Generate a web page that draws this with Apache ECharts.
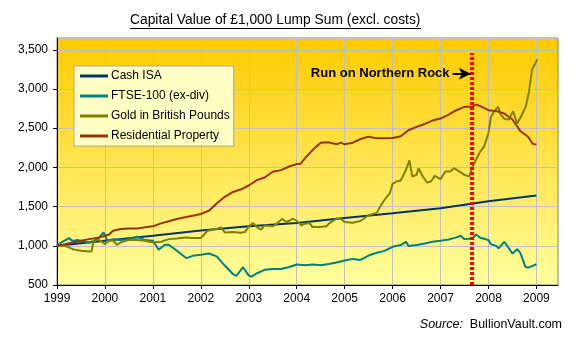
<!DOCTYPE html>
<html><head><meta charset="utf-8">
<script src="https://cdn.jsdelivr.net/npm/echarts@6/dist/echarts.min.js"></script>
<style>html,body{margin:0;padding:0;background:#fff}#c{width:579px;height:344px}</style>
</head><body><div id="c"></div>
<script>
const FONT = "'Liberation Sans', Arial, sans-serif";
const titleText = 'Capital Value of £1,000 Lump Sum (excl. costs)';
const seriesNames = ['Cash ISA', 'FTSE-100 (ex-div)', 'Gold in British Pounds', 'Residential Property'];
const xTickYears = [1999, 2000, 2001, 2002, 2003, 2004, 2005, 2006, 2007, 2008, 2009];
const yTicks = [500, 1000, 1500, 2000, 2500, 3000, 3500];

const cashDates = [1999, 2000, 2001, 2002, 2003, 2004, 2005, 2006, 2007, 2008, 2009];
const cashValues = [1000, 1064, 1128, 1195, 1248, 1292, 1354, 1415, 1478, 1568, 1640];

const ftseDates = [1999.0,1999.08,1999.25,1999.33,1999.42,1999.5,1999.67,1999.83,1999.97,2000.05,2000.17,2000.33,2000.5,2000.67,2000.83,2001.0,2001.12,2001.25,2001.33,2001.5,2001.7,2001.83,2002.0,2002.17,2002.33,2002.5,2002.67,2002.74,2002.88,2003.0,2003.06,2003.17,2003.33,2003.5,2003.67,2003.83,2004.0,2004.17,2004.33,2004.5,2004.67,2004.83,2005.0,2005.17,2005.33,2005.5,2005.67,2005.83,2006.0,2006.17,2006.28,2006.33,2006.5,2006.67,2006.83,2007.0,2007.17,2007.33,2007.42,2007.5,2007.67,2007.74,2007.83,2008.0,2008.05,2008.17,2008.21,2008.33,2008.5,2008.6,2008.67,2008.77,2008.83,2008.92,2009.0];
const ftseValues = [1000,1040,1098,1060,1075,1064,1043,1073,1171,1064,1085,1073,1085,1115,1073,1064,950,1013,1013,936,842,872,885,902,865,748,641,615,727,620,607,650,693,705,705,727,761,752,761,752,769,786,812,833,820,876,912,935,987,1009,1051,996,1009,1030,1051,1064,1081,1107,1128,1085,1094,1145,1102,1073,1021,996,966,1051,902,957,902,731,722,744,765];

const goldDates = [1999.0,1999.17,1999.33,1999.42,1999.5,1999.67,1999.72,1999.76,1999.83,1999.92,2000.0,2000.08,2000.17,2000.25,2000.33,2000.5,2000.67,2000.83,2001.0,2001.17,2001.33,2001.5,2001.67,2001.83,2002.0,2002.14,2002.33,2002.42,2002.5,2002.67,2002.83,2002.92,2003.0,2003.09,2003.17,2003.26,2003.33,2003.5,2003.58,2003.7,2003.78,2003.83,2003.92,2004.0,2004.1,2004.17,2004.27,2004.33,2004.5,2004.62,2004.67,2004.83,2004.92,2005.0,2005.17,2005.33,2005.5,2005.67,2005.74,2005.83,2005.94,2006.0,2006.08,2006.17,2006.28,2006.35,2006.41,2006.5,2006.54,2006.63,2006.72,2006.8,2006.88,2007.0,2007.1,2007.2,2007.28,2007.39,2007.5,2007.6,2007.67,2007.74,2007.83,2007.91,2008.0,2008.05,2008.12,2008.2,2008.25,2008.33,2008.43,2008.51,2008.6,2008.7,2008.78,2008.84,2008.91,2009.02];
const goldValues = [1000,1000,957,945,936,927,927,1051,1085,1060,1021,1064,1064,1013,1043,1077,1073,1064,1043,1051,1085,1094,1107,1098,1098,1192,1214,1235,1171,1175,1167,1175,1248,1290,1239,1205,1260,1248,1280,1346,1303,1316,1346,1316,1260,1282,1290,1239,1239,1250,1282,1346,1346,1303,1295,1316,1389,1420,1500,1585,1670,1790,1820,1833,1969,2089,1884,1905,1990,1884,1807,1820,1892,1850,1948,1948,1990,1948,1905,1884,2012,2097,2204,2268,2439,2644,2717,2772,2680,2618,2610,2717,2559,2674,2781,2951,3250,3378];

const propDates = [1999.0,1999.17,1999.33,1999.5,1999.67,1999.83,2000.0,2000.08,2000.17,2000.33,2000.5,2000.67,2000.83,2001.0,2001.17,2001.33,2001.5,2001.67,2001.83,2002.0,2002.17,2002.33,2002.5,2002.67,2002.83,2003.0,2003.17,2003.33,2003.5,2003.67,2003.83,2004.0,2004.08,2004.17,2004.33,2004.5,2004.67,2004.83,2004.92,2005.0,2005.17,2005.33,2005.5,2005.67,2005.83,2006.0,2006.17,2006.33,2006.5,2006.67,2006.83,2007.0,2007.17,2007.33,2007.5,2007.67,2007.74,2007.83,2008.0,2008.17,2008.33,2008.5,2008.67,2008.83,2008.92,2009.0];
const propValues = [1000,1020,1043,1064,1085,1098,1128,1141,1192,1214,1222,1222,1235,1248,1286,1312,1342,1363,1384,1406,1448,1540,1625,1687,1717,1769,1837,1871,1944,1965,2008,2042,2045,2114,2221,2315,2319,2294,2315,2294,2315,2362,2392,2370,2370,2375,2396,2473,2516,2554,2597,2623,2674,2729,2772,2772,2802,2781,2729,2717,2687,2610,2460,2388,2302,2290];

const rockDate = 2007.66;
const rockLineTop = 3460;
const arrowStart = 2007.25, arrowY = 3194;
const annotationText = 'Run on Northern Rock';

const zip = (xs, ys) => xs.map((x, i) => [x, ys[i]]);
const colors = ['#003366', '#008080', '#808000', '#993300'];

const chart = echarts.init(document.getElementById('c'), null, {renderer: 'canvas'});
const lineSeries = (name, data, color) => ({
  name, type: 'line', data, showSymbol: false, symbol: 'none',
  lineStyle: {color, width: 2}, itemStyle: {color}, animation: false
});

chart.setOption({
  animation: false,
  textStyle: {fontFamily: FONT},
  title: {
    text: titleText, left: 130, top: 13, padding: 0,
    textStyle: {fontFamily: FONT, fontSize: 13.8, fontWeight: 'normal', color: '#000'}
  },
  grid: {
    left: 57, right: 21, top: 38, bottom: 59, show: true,
    borderColor: '#808080', borderWidth: 1,
    backgroundColor: new echarts.graphic.LinearGradient(0, 0, 0, 1, [
      {offset: 0, color: '#FFCA00'}, {offset: 1, color: '#FFFF9E'}
    ])
  },
  legend: {
    data: seriesNames, orient: 'vertical', left: 74, top: 66,
    backgroundColor: '#FFFFC6', borderColor: '#A8A8A8', borderWidth: 1,
    padding: [4, 4, 4, 6], itemGap: 8, itemWidth: 28, itemHeight: 3, icon: 'rect',
    textStyle: {fontFamily: FONT, fontSize: 12, color: '#000', padding: [0, 0, 0, -2]}
  },
  xAxis: {
    type: 'value', min: 1999, max: 2009.45, interval: 1,
    axisLine: {lineStyle: {color: '#000', width: 1}},
    axisTick: {show: true, length: 4, lineStyle: {color: '#000'}},
    axisLabel: {color: '#000', fontSize: 12, fontFamily: FONT, margin: 8, showMaxLabel: false,
      formatter: v => xTickYears.includes(Math.round(v)) && Math.abs(v - Math.round(v)) < 1e-6 ? String(Math.round(v)) : ''},
    splitLine: {show: true, lineStyle: {color: '#C0C0C0', width: 1}}
  },
  yAxis: {
    type: 'value', min: 500, max: 3650, interval: 500,
    axisLine: {show: true, lineStyle: {color: '#000', width: 1}},
    axisTick: {show: true, length: 4, lineStyle: {color: '#000'}},
    axisLabel: {color: '#000', fontSize: 12, fontFamily: FONT, margin: 9, showMaxLabel: false,
      formatter: v => yTicks.includes(v) ? v.toLocaleString('en-US') : ''},
    splitLine: {show: true, lineStyle: {color: '#C0C0C0', width: 1}}
  },
  graphic: [
    {type: 'line', shape: {x1: 130, y1: 28.5, x2: 421, y2: 28.5}, style: {stroke: '#000', lineWidth: 1}},
    {type: 'text', right: 17, top: 318, style: {
      text: '{i|Source:}  BullionVault.com', fill: '#000',
      font: '12.5px ' + FONT,
      rich: {i: {fontStyle: 'italic', fontSize: 12.5, fontFamily: FONT, fill: '#000'}}
    }}
  ],
  series: [
    lineSeries(seriesNames[0], zip(cashDates, cashValues), colors[0]),
    lineSeries(seriesNames[1], zip(ftseDates, ftseValues), colors[1]),
    lineSeries(seriesNames[2], zip(goldDates, goldValues), colors[2]),
    lineSeries(seriesNames[3], zip(propDates, propValues), colors[3]),
    {
      name: 'rockLine', type: 'line', data: [], z: 5,
      markLine: {
        silent: true, symbol: ['none', 'none'], animation: false,
        label: {show: false},
        lineStyle: {color: '#FF0000', width: 4, type: [3, 2]},
        data: [[{coord: [rockDate, 500]}, {coord: [rockDate, rockLineTop]}]]
      }
    },
    {
      name: 'rockArrow', type: 'line', data: [], z: 6,
      markLine: {
        silent: true, symbol: ['none', 'arrow'], symbolSize: [9, 12], animation: false,
        lineStyle: {color: '#000', width: 2, type: 'solid'},
        label: {show: true, position: 'start', distance: 3, formatter: annotationText,
          fontFamily: FONT, fontSize: 13, fontWeight: 'bold', color: '#000'},
        data: [[{coord: [arrowStart, arrowY]}, {coord: [rockDate - 0.03, arrowY]}]]
      }
    }
  ]
});
</script></body></html>
